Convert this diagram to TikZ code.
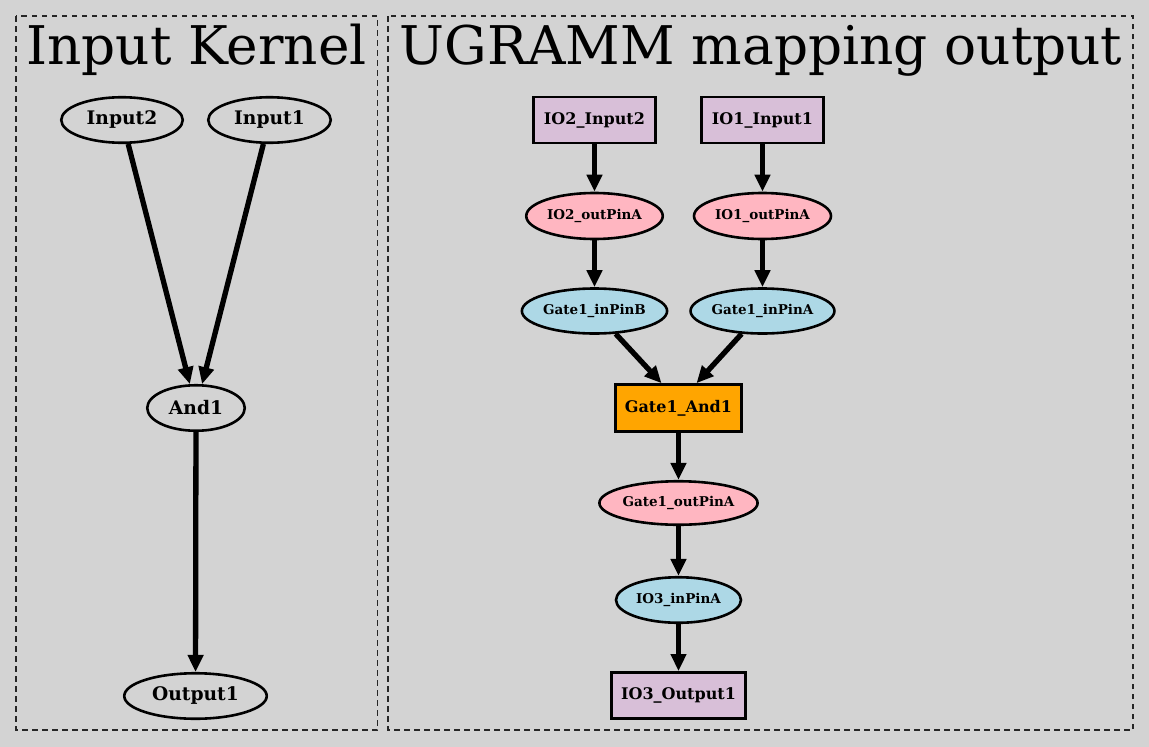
\documentclass[tikz,border=0pt]{standalone}
\usepackage{fontspec}
\setmainfont{DejaVu Serif}
\usetikzlibrary{arrows.meta,shapes.geometric}
\definecolor{bg}{HTML}{D3D3D3}
\definecolor{lpink}{HTML}{FFB6C1}
\definecolor{lblue}{HTML}{ADD8E6}
\definecolor{thistlec}{HTML}{D8BFD8}
\definecolor{orangec}{HTML}{FFA500}
\tikzset{
  cluster/.style={draw=black!85, line width=1.1pt, dash pattern=on 5.5pt off 4.5pt},
  ctitle/.style={anchor=base, inner sep=0pt, font=\fontsize{53.3}{60}\selectfont},
  bignode/.style={ellipse, draw=black, line width=2.6pt, inner sep=0pt, font=\fontsize{18.67}{20}\selectfont\bfseries},
  boxnode/.style={rectangle, draw=black, line width=2.6pt, inner sep=0pt, fill=thistlec, font=\fontsize{16}{18}\selectfont\bfseries},
  pinnode/.style={ellipse, draw=black, line width=2.6pt, inner sep=0pt, font=\fontsize{13.5}{15}\selectfont\bfseries},
  edge/.style={line width=5.3pt, -{Triangle[length=17pt,width=15pt]}},
}
\begin{document}
\begin{tikzpicture}[x=1pt,y=-1pt]
\fill[bg] (0,0) rectangle (1149,747);
\useasboundingbox (0,0) rectangle (1149,747);
% clusters
\draw[cluster] (16,16) rectangle (377.5,730);
\draw[cluster] (388,16) rectangle (1133,730);
\node[ctitle] (t1) at (196.5,64) {Input Kernel};
\node[ctitle] (t2) at (761,64) {UGRAMM mapping output};
% left graph
\node[bignode, minimum width=121.5, minimum height=45.5] (in2) at (122,120) {Input2};
\node[bignode, minimum width=122.5, minimum height=45.5] (in1) at (269.5,120) {Input1};
\node[bignode, minimum width=97.5, minimum height=45.5] (and) at (196,408) {And1};
\node[bignode, minimum width=142.5, minimum height=45.5] (out) at (195.5,696) {Output1};
\draw[edge] (in2) -- (and);
\draw[edge] (in1) -- (and);
\draw[edge] (and) -- (out);
% right graph
\node[boxnode, minimum width=121.7, minimum height=46.3] (io2) at (594.5,120) {IO2\_Input2};
\node[boxnode, minimum width=122.3, minimum height=46.3] (io1) at (762.5,120) {IO1\_Input1};
\node[pinnode, fill=lpink, minimum width=136.5, minimum height=46] (o2) at (594.5,216) {IO2\_outPinA};
\node[pinnode, fill=lpink, minimum width=137, minimum height=46] (o1) at (762.5,216) {IO1\_outPinA};
\node[pinnode, fill=lblue, minimum width=143, minimum height=45] (ib) at (594.5,311) {Gate1\_inPinB};
\node[pinnode, fill=lblue, minimum width=143, minimum height=45] (ia) at (762.5,311) {Gate1\_inPinA};
\node[boxnode, fill=orangec, minimum width=126.3, minimum height=47] (gate) at (678.5,408) {Gate1\_And1};
\node[pinnode, fill=lpink, minimum width=154, minimum height=43.5] (go) at (678.5,503) {Gate1\_outPinA};
\node[pinnode, fill=lblue, minimum width=125, minimum height=45.5] (i3) at (678.5,600) {IO3\_inPinA};
\node[boxnode, minimum width=134.3, minimum height=46.3] (io3) at (678.5,695.5) {IO3\_Output1};
\draw[edge] (io2) -- (o2);
\draw[edge] (io1) -- (o1);
\draw[edge] (o2) -- (ib);
\draw[edge] (o1) -- (ia);
\draw[edge] (ib) -- ([xshift=-17pt]gate.north);
\draw[edge] (ia) -- ([xshift=18pt]gate.north);
\draw[edge] (gate) -- (go);
\draw[edge] (go) -- (i3);
\draw[edge] (i3) -- (io3);
\end{tikzpicture}
\end{document}
